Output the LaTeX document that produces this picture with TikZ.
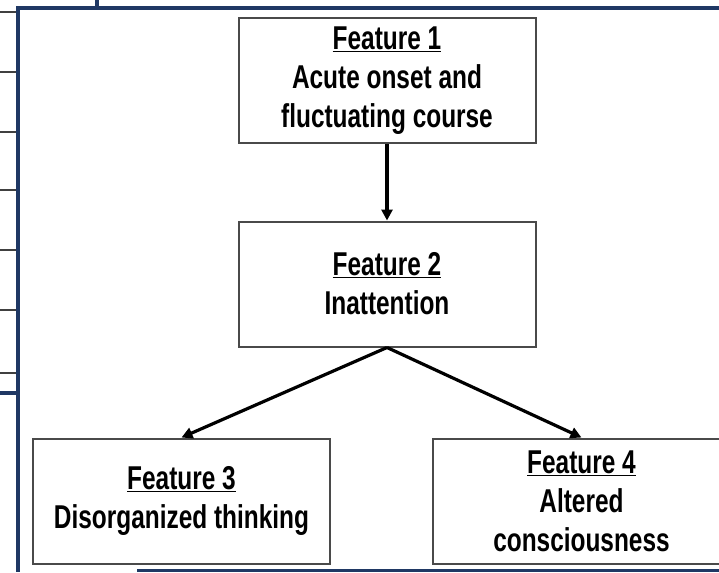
\documentclass[tikz,border=0pt]{standalone}
\usepackage{fontspec}
\setmainfont[FakeStretch=0.74]{Liberation Sans}
\usetikzlibrary{arrows.meta,positioning}
\definecolor{frameblue}{HTML}{1F3864}
\definecolor{boxline}{HTML}{4A4A4A}

\begin{document}
\begin{tikzpicture}[x=1pt,y=-1pt,font=\fontsize{33}{39}\selectfont\bfseries,node distance=76pt,
    feature/.style={draw=boxline,line width=2pt,fill=white,align=center,minimum width=297pt,minimum height=125pt,inner sep=0pt},
    link/.style={line width=3.2pt,-{Triangle[length=11pt,width=11pt]}}]
        \useasboundingbox (0,0) rectangle (719,572);
        \clip (0,0) rectangle (719,572);
        % frame left over from the page
        \foreach \y in {12,72,132,190,250,310,373}
          \draw[black!75,line width=2.5pt] (0,\y) -- (16,\y);
        \draw[frameblue,line width=4pt] (0,393) -- (18,393);
        \draw[frameblue,line width=4pt] (97,0) -- (97,8);
        \draw[frameblue,line width=4pt] (719,8) -- (18,8) -- (18,572);
        \draw[frameblue,line width=3pt] (137,570) -- (719,570);
        % features
        \node[feature] (f1) at (387,81) {\underline{Feature 1}\\Acute onset and\\fluctuating course};
        \node[feature,below=of f1] (f2) {\underline{Feature 2}\\Inattention};
        \node[feature] (f3) at (181.5,501) {\underline{Feature 3}\\Disorganized thinking};
        \node[feature] (f4) at (581.5,501) {\underline{Feature 4}\\Altered\\consciousness};
        \draw[link] (f1) -- (f2);
        \draw[link] (f2.south) -- (f3.north);
        \draw[link] (f2.south) -- (f4.north);
      \end{tikzpicture}
\end{document}
